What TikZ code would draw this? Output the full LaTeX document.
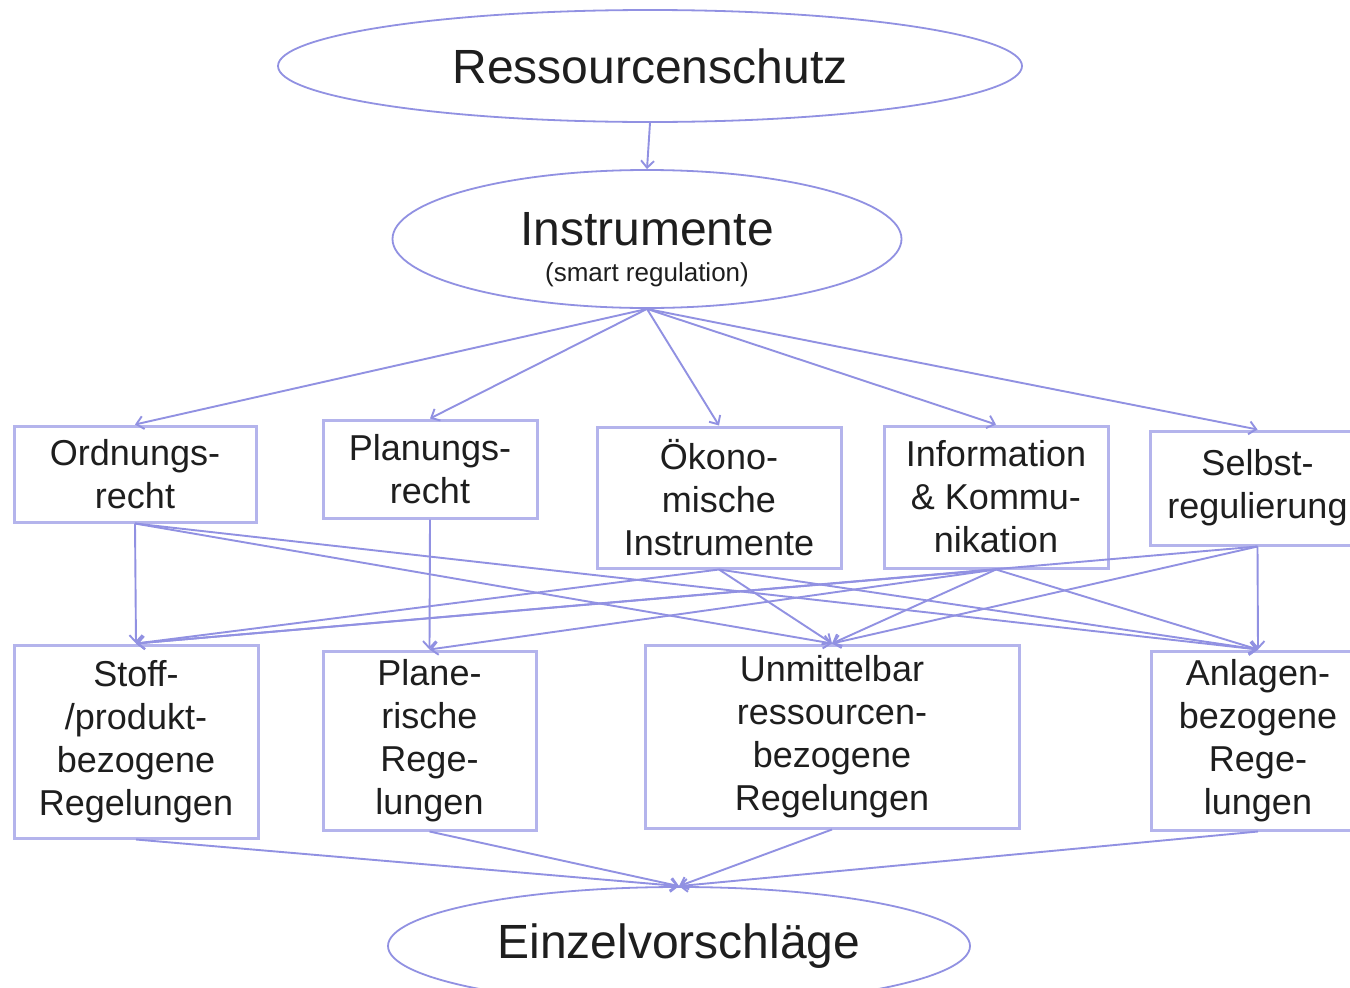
\documentclass[tikz,border=0pt]{standalone}
\usepackage{fontspec}
\setmainfont{Liberation Sans}
\usetikzlibrary{shapes.geometric,arrows.meta}
\definecolor{boxc}{RGB}{180,180,236}
\definecolor{linec}{RGB}{145,145,226}
\definecolor{txtc}{RGB}{30,30,30}
\begin{document}
\begin{tikzpicture}[x=1pt,y=-1pt,
  oval/.style={ellipse,draw=linec,line width=1.8pt,inner sep=0pt,text=txtc},
  rbox/.style={rectangle,draw=boxc,line width=3pt,inner sep=0pt,align=center,text=txtc,font=\fontsize{36}{43}\selectfont},
  big/.style={font=\fontsize{48}{52}\selectfont,text=txtc},
  small/.style={font=\fontsize{26}{28}\selectfont,text=txtc},
  conn/.style={draw=linec,line width=1.9pt,-{Straight Barb[length=7pt,width=13pt]}}]
\useasboundingbox (0,0) rectangle (1350,988);
\clip (0,0) rectangle (1350,988);
\fill[white] (0,0) rectangle (1350,988);

% ellipses
\node[oval,big,minimum width=744pt,minimum height=112pt] (res) at (650,66) {Ressourcenschutz};
\node[oval,minimum width=509pt,minimum height=138pt] (ins) at (647,239) {};
\node[big] (insT) at (647,229) {Instrumente};
\node[small] (smart) at (647,275) {(smart regulation)};
\node[oval,big,minimum width=582pt,minimum height=118pt] (einz) at (679,946) {Einzelvorschläge};

% middle row
\node[rbox,minimum width=242pt,minimum height=96pt] (ordn) at (135,474) {Ordnungs-\\recht};
\node[rbox,minimum width=214pt,minimum height=98pt] (plan) at (430,469) {Planungs-\\recht};
\node[rbox,minimum width=244pt,minimum height=141pt] (oek) at (719,497.5) {Ökono-\\mische\\Instrumente};
\node[rbox,minimum width=224pt,minimum height=142pt] (info) at (996,497) {Information\\\& Kommu-\\nikation};
\node[rbox,minimum width=215pt,minimum height=114pt] (selb) at (1257.5,488) {Selbst-\\regulierung};

% bottom row
\node[rbox,minimum width=244pt,minimum height=193pt] (stoff) at (136,741.5) {Stoff-\\/produkt-\\bezogene\\Regelungen};
\node[rbox,minimum width=213pt,minimum height=179pt] (plane) at (429.5,740.5) {Plane-\\rische\\Rege-\\lungen};
\node[rbox,minimum width=374pt,minimum height=183pt] (unm) at (832,736.5) {Unmittelbar\\ressourcen-\\bezogene\\Regelungen};
\node[rbox,minimum width=214pt,minimum height=179pt] (anl) at (1258,740.5) {Anlagen-\\bezogene\\Rege-\\lungen};

% connectors
\draw[conn] (res.south) -- (ins.north);
\foreach \t in {ordn,plan,oek,info,selb}
  \draw[conn] (ins.south) -- (\t.north);

\foreach \t in {stoff,unm,anl}
  \draw[conn] (ordn.south) -- (\t.north);
\draw[conn] (plan.south) -- (plane.north);
\foreach \t in {stoff,unm,anl}
  \draw[conn] (oek.south) -- (\t.north);
\foreach \t in {stoff,plane,unm,anl}
  \draw[conn] (info.south) -- (\t.north);
\foreach \t in {stoff,unm,anl}
  \draw[conn] (selb.south) -- (\t.north);

\foreach \s in {stoff,plane,unm,anl}
  \draw[conn] (\s.south) -- (einz.north);
\end{tikzpicture}
\end{document}
